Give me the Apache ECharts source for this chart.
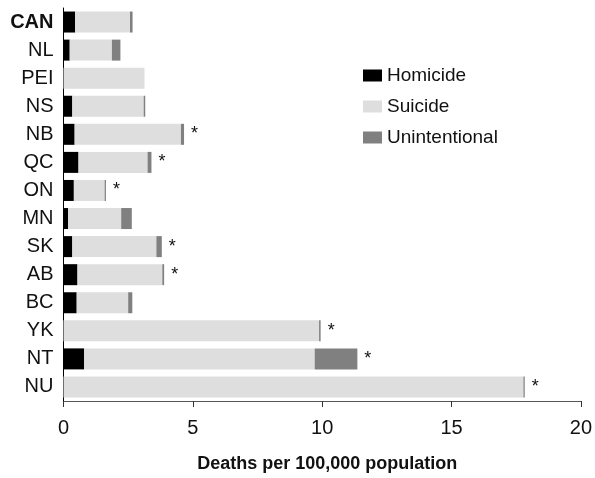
<!DOCTYPE html>
<html>
<head>
<meta charset="utf-8">
<script src="https://cdn.jsdelivr.net/npm/echarts@6/dist/echarts.min.js"></script>
<style>
  html, body { margin: 0; padding: 0; background: #fff; }
  #chart { width: 595px; height: 478px; }
</style>
</head>
<body>
<div id="chart"></div>
<script>
const provinces = ['CAN', 'NL', 'PEI', 'NS', 'NB', 'QC', 'ON', 'MN', 'SK', 'AB', 'BC', 'YK', 'NT', 'NU'];
const homicide = [0.45, 0.24, 0, 0.34, 0.43, 0.58, 0.40, 0.18, 0.34, 0.54, 0.51, 0, 0.80, 0];
const suicide = [2.12, 1.63, 3.13, 2.76, 4.11, 2.67, 1.19, 2.05, 3.25, 3.28, 1.99, 9.88, 8.91, 17.78];
const unintentional = [0.10, 0.33, 0, 0.06, 0.12, 0.15, 0.05, 0.41, 0.21, 0.07, 0.16, 0.06, 1.65, 0.05];
// asterisk marks next to the bar
const flagged = [false, false, false, false, true, true, true, false, true, true, false, true, true, true];

const font = "'Liberation Sans Narrow', 'Arial Narrow', 'Liberation Sans', Arial, sans-serif";

const chart = echarts.init(document.getElementById('chart'));

const option = {
  animation: false,
  textStyle: { fontFamily: font },
  grid: { left: 63.5, right: 9, top: 8, bottom: 74, containLabel: false },
  legend: {
    orient: 'vertical',
    left: 358,
    top: 61,
    itemWidth: 19,
    itemHeight: 12,
    itemGap: 12,
    icon: 'rect',
    textStyle: { fontFamily: font, fontSize: 19, color: '#111' },
    data: ['Homicide', 'Suicide', 'Unintentional']
  },
  xAxis: {
    type: 'value',
    min: 0,
    max: 20,
    interval: 5,
    splitLine: { show: false },
    axisLine: { show: true, lineStyle: { color: '#555', width: 1 } },
    axisTick: { show: true, length: 6, lineStyle: { color: '#333' } },
    axisLabel: { fontFamily: font, fontSize: 20, color: '#111', margin: 17 },
    name: 'Deaths per 100,000 population',
    nameLocation: 'middle',
    nameGap: 54,
    nameTextStyle: { fontFamily: font, fontSize: 18, fontWeight: 'bold', color: '#111', padding: [0, 0, 0, 10] }
  },
  yAxis: {
    type: 'category',
    inverse: true,
    data: provinces.map((p, i) => i === 0
      ? { value: p, textStyle: { fontWeight: 'bold' } }
      : p),
    axisLine: { show: true, lineStyle: { color: '#000', width: 1 } },
    axisTick: { show: false },
    axisLabel: { fontFamily: font, fontSize: 20, color: '#111', margin: 10 }
  },
  series: [
    {
      name: 'Homicide',
      type: 'bar',
      stack: 'deaths',
      barWidth: 21,
      itemStyle: { color: '#000' },
      data: homicide
    },
    {
      name: 'Suicide',
      type: 'bar',
      stack: 'deaths',
      barWidth: 21,
      itemStyle: { color: '#dedede' },
      data: suicide
    },
    {
      name: 'Unintentional',
      type: 'bar',
      stack: 'deaths',
      barWidth: 21,
      itemStyle: { color: '#808080' },
      data: unintentional.map((v, i) => ({
        value: v,
        label: {
          show: flagged[i],
          position: 'right',
          distance: 7,
          formatter: '*',
          fontFamily: font,
          fontSize: 18,
          color: '#111'
        }
      }))
    }
  ]
};

chart.setOption(option);
</script>
</body>
</html>
